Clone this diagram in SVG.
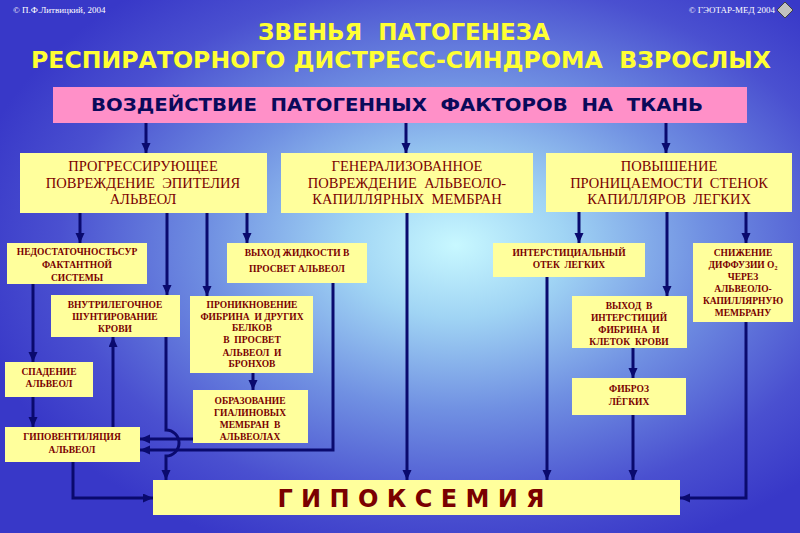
<svg xmlns="http://www.w3.org/2000/svg" width="800" height="533" viewBox="0 0 800 533">
<defs>
<radialGradient id="bg" cx="0.57" cy="0.46" r="0.62">
<stop offset="0" stop-color="#c8f8ff"/>
<stop offset="0.22" stop-color="#a0d4f4"/>
<stop offset="0.5" stop-color="#7090e2"/>
<stop offset="0.8" stop-color="#4a50d0"/>
<stop offset="1" stop-color="#3838c8"/>
</radialGradient>
<marker id="ah" markerUnits="userSpaceOnUse" markerWidth="10" markerHeight="10" refX="10" refY="4.5" orient="auto">
<path d="M0,0 L10,4.5 L0,9 z" fill="#0a0a6e"/>
</marker>
<style>
text{white-space:pre}
.box{fill:#ffff9c}
.big{font-family:"Liberation Serif","Times New Roman",serif;font-size:14.5px;fill:#7a0000;text-anchor:middle}
.sm{font-family:"Liberation Serif","Times New Roman",serif;font-size:9.5px;font-weight:bold;fill:#7a0000;text-anchor:middle}
.ln{fill:none;stroke:#0a0a6e;stroke-width:3}
.cp{font-family:"Liberation Serif","Times New Roman",serif;font-size:9px;fill:#ffffff}
</style>
</defs>
<rect width="800" height="533" fill="url(#bg)"/>

<g id="copyright">
<text class="cp" x="13" y="13">© П.Ф.Литвицкий, 2004</text>
<text class="cp" x="775" y="13" text-anchor="end">© ГЭОТАР-МЕД 2004</text>
<polygon points="785,2 793,10 785,18 777,10" fill="#c0c0c0" stroke="#404040" stroke-width="1"/>
</g>

<g id="title" font-family="'DejaVu Sans',Verdana,sans-serif" font-weight="bold" fill="#ffff33" text-anchor="middle">
<text x="404" y="40" font-size="23">ЗВЕНЬЯ  ПАТОГЕНЕЗА</text>
<text x="401" y="68" font-size="23" textLength="740" lengthAdjust="spacingAndGlyphs">РЕСПИРАТОРНОГО ДИСТРЕСС-СИНДРОМА  ВЗРОСЛЫХ</text>
</g>

<g id="header">
<rect x="53" y="87" width="694" height="36" fill="#ff90c8"/>
<text x="397" y="111" font-family="'DejaVu Sans',Verdana,sans-serif" font-weight="bold" font-size="18.5" fill="#0a0a5a" text-anchor="middle" textLength="612" lengthAdjust="spacingAndGlyphs">ВОЗДЕЙСТВИЕ  ПАТОГЕННЫХ  ФАКТОРОВ  НА  ТКАНЬ</text>
</g>

<g id="connectors">
<path class="ln" d="M146,123 V153" marker-end="url(#ah)"/>
<path class="ln" d="M406,123 V153" marker-end="url(#ah)"/>
<path class="ln" d="M666,123 V153" marker-end="url(#ah)"/>
<path class="ln" d="M80,213 V243" marker-end="url(#ah)"/>
<path class="ln" d="M167,213 V295" marker-end="url(#ah)"/>
<path class="ln" d="M207,213 V296" marker-end="url(#ah)"/>
<path class="ln" d="M247,213 V243" marker-end="url(#ah)"/>
<path class="ln" d="M33,284 V362" marker-end="url(#ah)"/>
<path class="ln" d="M33,397 V427" marker-end="url(#ah)"/>
<path class="ln" d="M113,427 V337" marker-end="url(#ah)"/>
<path class="ln" d="M253,373 V390" marker-end="url(#ah)"/>
<path class="ln" d="M193,439 H140" marker-end="url(#ah)"/>
<path class="ln" d="M333,283 V450 H140" marker-end="url(#ah)"/>
<path class="ln" d="M166,337 V430 A13,13 0 0 1 166,456 V480" marker-end="url(#ah)"/>
<path class="ln" d="M73,462 V498 H153" marker-end="url(#ah)"/>
<path class="ln" d="M407,213 V480" marker-end="url(#ah)"/>
<path class="ln" d="M579,212 V243" marker-end="url(#ah)"/>
<path class="ln" d="M547,277 V480" marker-end="url(#ah)"/>
<path class="ln" d="M667,212 V296" marker-end="url(#ah)"/>
<path class="ln" d="M633,348 V378" marker-end="url(#ah)"/>
<path class="ln" d="M633,415 V480" marker-end="url(#ah)"/>
<path class="ln" d="M746,212 V243" marker-end="url(#ah)"/>
<path class="ln" d="M746,322 V498 H680" marker-end="url(#ah)"/>
</g>

<g id="epithelium">
<rect class="box" x="20" y="153" width="247" height="60"/>
<text class="big" x="143" y="171">ПРОГРЕССИРУЮЩЕЕ</text>
<text class="big" x="143" y="188">ПОВРЕЖДЕНИЕ  ЭПИТЕЛИЯ</text>
<text class="big" x="143" y="204">АЛЬВЕОЛ</text>
</g>

<g id="membranes">
<rect class="box" x="281" y="153" width="252" height="60"/>
<text class="big" x="407" y="171">ГЕНЕРАЛИЗОВАННОЕ</text>
<text class="big" x="407" y="188">ПОВРЕЖДЕНИЕ  АЛЬВЕОЛО-</text>
<text class="big" x="407" y="204">КАПИЛЛЯРНЫХ  МЕМБРАН</text>
</g>

<g id="permeability">
<rect class="box" x="546" y="153" width="246" height="59"/>
<text class="big" x="669" y="171">ПОВЫШЕНИЕ</text>
<text class="big" x="669" y="188">ПРОНИЦАЕМОСТИ  СТЕНОК</text>
<text class="big" x="669" y="204">КАПИЛЛЯРОВ  ЛЕГКИХ</text>
</g>

<g id="surfactant">
<rect class="box" x="7" y="243" width="140" height="41"/>
<text class="sm" x="77" y="255">НЕДОСТАТОЧНОСТЬСУР</text>
<text class="sm" x="77" y="268">ФАКТАНТНОЙ</text>
<text class="sm" x="77" y="281">СИСТЕМЫ</text>
</g>

<g id="fluid">
<rect class="box" x="227" y="243" width="140" height="40"/>
<text class="sm" x="297" y="256">ВЫХОД ЖИДКОСТИ В</text>
<text class="sm" x="297" y="272">ПРОСВЕТ АЛЬВЕОЛ</text>
</g>

<g id="shunting">
<rect class="box" x="51" y="295" width="129" height="42"/>
<text class="sm" x="115" y="308">ВНУТРИЛЕГОЧНОЕ</text>
<text class="sm" x="115" y="320">ШУНТИРОВАНИЕ</text>
<text class="sm" x="115" y="332">КРОВИ</text>
</g>

<g id="fibrin">
<rect class="box" x="190" y="296" width="123" height="77"/>
<text class="sm" x="252" y="308">ПРОНИКНОВЕНИЕ</text>
<text class="sm" x="252" y="320">ФИБРИНА  И ДРУГИХ</text>
<text class="sm" x="252" y="331">БЕЛКОВ</text>
<text class="sm" x="252" y="343">В  ПРОСВЕТ</text>
<text class="sm" x="252" y="356">АЛЬВЕОЛ  И</text>
<text class="sm" x="252" y="367">БРОНХОВ</text>
</g>

<g id="collapse">
<rect class="box" x="5" y="362" width="88" height="35"/>
<text class="sm" x="49" y="375">СПАДЕНИЕ</text>
<text class="sm" x="49" y="387">АЛЬВЕОЛ</text>
</g>

<g id="hyaline">
<rect class="box" x="193" y="390" width="115" height="53"/>
<text class="sm" x="250" y="404">ОБРАЗОВАНИЕ</text>
<text class="sm" x="250" y="416">ГИАЛИНОВЫХ</text>
<text class="sm" x="250" y="428">МЕМБРАН  В</text>
<text class="sm" x="250" y="440">АЛЬВЕОЛАХ</text>
</g>

<g id="hypoventilation">
<rect class="box" x="5" y="427" width="135" height="35"/>
<text class="sm" x="72" y="440">ГИПОВЕНТИЛЯЦИЯ</text>
<text class="sm" x="72" y="453">АЛЬВЕОЛ</text>
</g>

<g id="edema">
<rect class="box" x="493" y="243" width="152" height="34"/>
<text class="sm" x="569" y="256">ИНТЕРСТИЦИАЛЬНЫЙ</text>
<text class="sm" x="569" y="268">ОТЕК  ЛЕГКИХ</text>
</g>

<g id="interstitium">
<rect class="box" x="572" y="296" width="115" height="52"/>
<text class="sm" x="629" y="309">ВЫХОД  В</text>
<text class="sm" x="629" y="321">ИНТЕРСТИЦИЙ</text>
<text class="sm" x="629" y="333">ФИБРИНА  И</text>
<text class="sm" x="629" y="345">КЛЕТОК  КРОВИ</text>
</g>

<g id="fibrosis">
<rect class="box" x="572" y="378" width="114" height="37"/>
<text class="sm" x="629" y="392">ФИБРОЗ</text>
<text class="sm" x="629" y="405">ЛЁГКИХ</text>
</g>

<g id="diffusion">
<rect class="box" x="693" y="243" width="100" height="79"/>
<text class="sm" x="743" y="256">СНИЖЕНИЕ</text>
<text class="sm" x="743" y="268">ДИФФУЗИИ О<tspan font-size="6" dy="2">2</tspan></text>
<text class="sm" x="743" y="280">ЧЕРЕЗ</text>
<text class="sm" x="743" y="292">АЛЬВЕОЛО-</text>
<text class="sm" x="743" y="304">КАПИЛЛЯРНУЮ</text>
<text class="sm" x="743" y="316">МЕМБРАНУ</text>
</g>

<g id="hypoxemia">
<rect class="box" x="153" y="480" width="527" height="35"/>
<text x="411" y="507" font-family="'DejaVu Sans',Verdana,sans-serif" font-weight="bold" font-size="24" fill="#7a0000" text-anchor="middle">Г И П О К С Е М И Я</text>
</g>
</svg>
